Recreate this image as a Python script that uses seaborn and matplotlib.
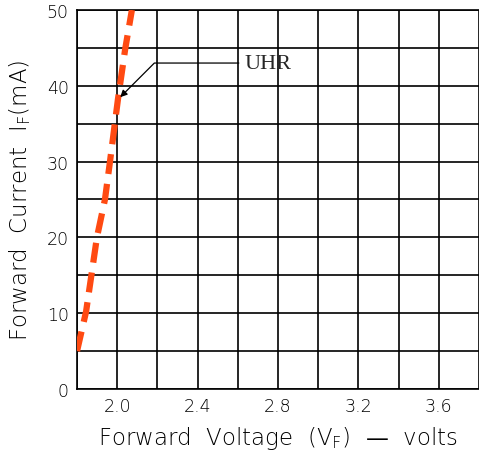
import numpy as np
import pandas as pd
import matplotlib
matplotlib.use("Agg")
import matplotlib.pyplot as plt
import seaborn as sns

# forward voltage (V) vs forward current (mA)
vf = [1.80, 1.845, 1.899, 1.939, 1.964, 2.004, 2.040, 2.073]
i_f = [5.0, 10.2, 20.0, 25.0, 30.0, 38.3, 44.9, 50.0]

x_major = [2.0, 2.4, 2.8, 3.2, 3.6]
y_major = [0, 10, 20, 30, 40, 50]
label_text = "UHR"

df = pd.DataFrame({"vf": vf, "if": i_f})

sns.set_style("white")
plt.rcParams["font.family"] = ["DejaVu Sans"]

fig = plt.figure(figsize=(4.79, 4.52), dpi=100)
ax = fig.add_axes([0.1608, 0.1372, 0.8392, 0.8385])

sns.lineplot(data=df, x="vf", y="if", ax=ax, color="#ff4a12",
             linewidth=4.5, linestyle=(0, (3.2, 1.6)), zorder=3)

ax.set_xlim(1.8, 3.8)
ax.set_ylim(0, 50)
ax.set_xticks(x_major)
ax.set_xticklabels([f"{v:.1f}" for v in x_major])
ax.set_yticks(y_major)
ax.set_xticks(np.arange(1.8, 3.81, 0.2), minor=True)
ax.set_yticks(np.arange(0, 51, 5), minor=True)
ax.grid(which="both", color="black", linewidth=1.2)
ax.tick_params(which="both", length=0, labelsize=12.5, colors="black", pad=6)
for lab in ax.get_xticklabels() + ax.get_yticklabels():
    lab.set_fontweight("light")
for s in ax.spines.values():
    s.set_color("black")
    s.set_linewidth(1.2)
ax.spines["right"].set_visible(False)

ax.set_xlabel(r"Forward  Voltage  (V$_\mathregular{F}$)  —  volts",
              fontsize=16.5, color="black", labelpad=6, fontweight="light")
ax.set_ylabel(r"Forward  Current  I$_\mathregular{F}$(mA)",
              fontsize=16.5, color="black", labelpad=10, fontweight="light")

ax.annotate(label_text, xy=(2.015, 38.5), xytext=(2.635, 43.0),
            fontsize=16, family="Liberation Serif", va="center", ha="left",
            arrowprops=dict(arrowstyle="-|>", color="black", lw=0.9,
                            connectionstyle="angle,angleA=0,angleB=45,rad=0",
                            shrinkA=2, shrinkB=0, mutation_scale=10))

fig.savefig("out.png", dpi=100)
